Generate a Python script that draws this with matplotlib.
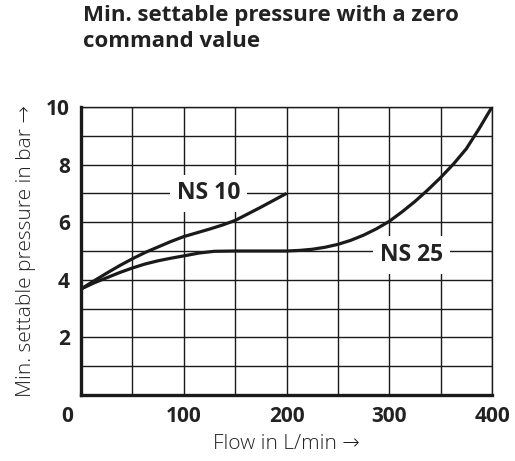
import numpy as np
import matplotlib
matplotlib.use("Agg")
import matplotlib.pyplot as plt
import matplotlib.transforms as mtransforms

plt.rcParams['font.family'] = ['Open Sans', 'DejaVu Sans']

# values
flow_ns10 = [0, 12.5, 25, 37.5, 50, 62.5, 75, 87.5, 100, 112.5, 125, 137.5,
             150, 162.5, 175, 187.5, 200]
p_ns10 = [3.68, 3.96, 4.23, 4.49, 4.73, 4.95, 5.14, 5.33, 5.5, 5.63, 5.76, 5.9,
          6.06, 6.29, 6.52, 6.76, 7.0]

flow_ns25 = [0, 12.5, 25, 37.5, 50, 62.5, 75, 87.5, 100, 115, 130, 150, 200,
             212.5, 225, 237.5, 250, 262.5, 275, 287.5, 300, 312.5, 325, 337.5,
             350, 362.5, 375, 387.5, 400]
p_ns25 = [3.68, 3.89, 4.07, 4.25, 4.41, 4.55, 4.66, 4.75, 4.83, 4.93, 4.99, 5.0, 5.0,
          5.02, 5.06, 5.13, 5.23, 5.37, 5.55, 5.77, 6.03, 6.36, 6.72, 7.12,
          7.55, 8.02, 8.55, 9.25, 10.0]

x_ticks = [0, 100, 200, 300, 400]
y_ticks = [2, 4, 6, 8, 10]

fig = plt.figure(figsize=(5.15, 4.61), dpi=100)
ax = fig.add_axes([81/515, 66/461, 411/515, 288/461])

ax.set_xlim(0, 400)
ax.set_ylim(0, 10)
ax.set_xticks(np.arange(0, 401, 50))
ax.set_yticks(np.arange(0, 11, 1))
ax.grid(True, color='#1a1a1a', lw=1.0)
ax.set_axisbelow(True)
ax.tick_params(length=0, labelsize=15, pad=8)

ax.set_xticklabels([str(v) if v in x_ticks else '' for v in np.arange(0, 401, 50)],
                   fontweight='bold', color='#222222')
ax.set_yticklabels([str(v) if v in y_ticks else '' for v in range(11)],
                   fontweight='bold', color='#222222')
# the "0" sits a little left of the corner
lbl0 = ax.get_xticklabels()[0]
lbl0.set_transform(lbl0.get_transform() + mtransforms.ScaledTranslation(-14/100, 0, fig.dpi_scale_trans))

for side in ['top', 'right']:
    ax.spines[side].set_linewidth(1.0)
for side in ['left', 'bottom']:
    ax.spines[side].set_linewidth(2.4)
for s in ax.spines.values():
    s.set_color('#1a1a1a')

ax.plot(flow_ns10, p_ns10, color='#1a1a1a', lw=2.3, solid_capstyle='butt')
ax.plot(flow_ns25, p_ns25, color='#1a1a1a', lw=2.3, solid_capstyle='butt')

box = dict(facecolor='white', edgecolor='none', pad=5)
ax.text(124, 7.0, 'NS 10', fontsize=16.5, fontweight='bold', color='#222222',
        ha='center', va='center', bbox=box)
ax.text(322, 4.86, 'NS 25', fontsize=16.5, fontweight='bold', color='#222222',
        ha='center', va='center', bbox=box)

ax.set_xlabel('Flow in L/min \u2192', fontsize=15, fontweight='light', color='#222222', labelpad=5)
ax.set_ylabel('Min. settable pressure in bar \u2192', fontsize=15, fontweight='light',
              color='#222222', labelpad=7)

fig.text(83/515, 1 - 5/461, 'Min. settable pressure with a zero\ncommand value',
         fontsize=16, fontweight='bold', color='#222222', ha='left', va='top',
         linespacing=1.3)

fig.savefig('out.png', dpi=100)
